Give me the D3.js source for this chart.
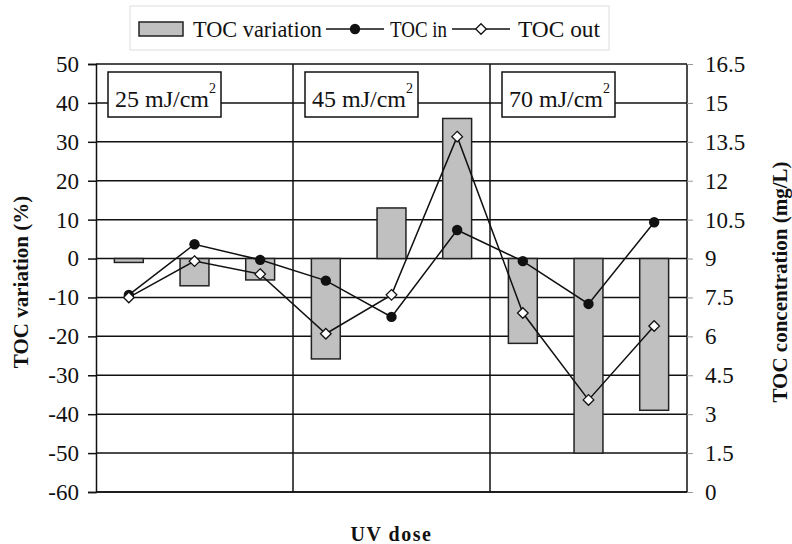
<!DOCTYPE html>
<html>
<head>
<meta charset="utf-8">
<script src="https://cdnjs.cloudflare.com/ajax/libs/d3/7.8.5/d3.min.js"></script>
<style>
body { margin: 0; background: #fff; }
text { font-family: "Liberation Serif", "Times New Roman", serif; fill: #111; }
</style>
</head>
<body>
<div id="chart"></div>
<script>
// samples, three per UV dose
var samples = ["s1", "s2", "s3", "s4", "s5", "s6", "s7", "s8", "s9"];
var doses = ["25", "45", "70"];
var tocVariation = [-1, -7, -5.5, -25.8, 13, 36, -21.8, -50, -39];   // %
var tocIn = [7.6, 9.55, 8.95, 8.15, 6.75, 10.1, 8.9, 7.25, 10.4];     // mg/L
var tocOut = [7.5, 8.9, 8.4, 6.1, 7.6, 13.7, 6.9, 3.55, 6.4];         // mg/L
var leftTicks = [-60, -50, -40, -30, -20, -10, 0, 10, 20, 30, 40, 50];
var rightTicks = [0, 1.5, 3, 4.5, 6, 7.5, 9, 10.5, 12, 13.5, 15, 16.5];

var width = 792, height = 544;
var margin = {top: 64, right: 105, bottom: 52, left: 96};
var serif = "'Liberation Serif', 'Times New Roman', serif";

var svg = d3.select("#chart")
    .append("svg")
    .attr("width", width)
    .attr("height", height);

var x = d3.scaleBand()
    .domain(samples)
    .range([margin.left, width - margin.right])
    .paddingInner(0.56)
    .paddingOuter(0.28);

var xGroup = d3.scaleBand()
    .domain(doses)
    .range([margin.left, width - margin.right]);

var yLeft = d3.scaleLinear()
    .domain([-60, 50])
    .range([height - margin.bottom, margin.top]);

var yRight = d3.scaleLinear()
    .domain([0, 16.5])
    .range([height - margin.bottom, margin.top]);

// horizontal grid lines
svg.append("g")
    .selectAll("line")
    .data(leftTicks)
    .enter().append("line")
    .attr("x1", margin.left)
    .attr("x2", width - margin.right)
    .attr("y1", function(d) { return yLeft(d); })
    .attr("y2", function(d) { return yLeft(d); })
    .style("stroke", "#111")
    .style("stroke-width", 1.5);

// vertical dividers between dose groups + right frame
svg.append("g")
    .selectAll("line")
    .data(doses.slice(1).concat(["end"]))
    .enter().append("line")
    .attr("x1", function(d) { return d == "end" ? width - margin.right : xGroup(d); })
    .attr("x2", function(d) { return d == "end" ? width - margin.right : xGroup(d); })
    .attr("y1", margin.top)
    .attr("y2", height - margin.bottom)
    .style("stroke", "#111")
    .style("stroke-width", 1.5);

// bars
svg.append("g")
    .selectAll("rect")
    .data(tocVariation)
    .enter().append("rect")
    .attr("x", function(d, i) { return x(samples[i]); })
    .attr("width", x.bandwidth())
    .attr("y", function(d) { return yLeft(Math.max(0, d)); })
    .attr("height", function(d) { return Math.abs(yLeft(d) - yLeft(0)); })
    .style("fill", "#c0c0c0")
    .style("stroke", "#222")
    .style("stroke-width", 1.5);

var cx = function(d, i) { return x(samples[i]) + x.bandwidth() / 2; };

var line = d3.line()
    .x(function(d, i) { return x(samples[i]) + x.bandwidth() / 2; })
    .y(function(d) { return yRight(d); });

svg.append("path")
    .datum(tocIn)
    .attr("d", line)
    .style("fill", "none")
    .style("stroke", "#111")
    .style("stroke-width", 1.5);

svg.append("path")
    .datum(tocOut)
    .attr("d", line)
    .style("fill", "none")
    .style("stroke", "#111")
    .style("stroke-width", 1.5);

svg.append("g")
    .selectAll("circle")
    .data(tocIn)
    .enter().append("circle")
    .attr("cx", cx)
    .attr("cy", function(d) { return yRight(d); })
    .attr("r", 5.2)
    .style("fill", "#111");

var diamond = d3.symbol().type(d3.symbolDiamond2).size(72);
svg.append("g")
    .selectAll("path")
    .data(tocOut)
    .enter().append("path")
    .attr("d", diamond)
    .attr("transform", function(d, i) { return "translate(" + cx(d, i) + "," + yRight(d) + ")"; })
    .style("fill", "#fff")
    .style("stroke", "#111")
    .style("stroke-width", 1.3);

// dose label boxes
var labels = svg.append("g")
    .selectAll("g")
    .data(doses)
    .enter().append("g")
    .attr("transform", function(d) { return "translate(" + (xGroup(d) + 12) + "," + 72 + ")"; });

labels.append("rect")
    .attr("width", 113)
    .attr("height", 45)
    .style("fill", "#fff")
    .style("stroke", "#111")
    .style("stroke-width", 1.5);

var lt = labels.append("text")
    .attr("x", 7)
    .attr("y", 35)
    .style("font-size", "24px");
lt.append("tspan").text(function(d) { return d + " mJ/cm"; });
lt.append("tspan")
    .attr("dy", -14)
    .style("font-size", "14px")
    .text("2");

// left axis
var leftAxis = svg.append("g")
    .attr("transform", "translate(" + margin.left + ",0)")
    .call(d3.axisLeft(yLeft).tickValues(leftTicks).tickSize(8).tickPadding(9)
        .tickFormat(function(d) { return String(d); }));
leftAxis.select(".domain").style("stroke", "#111").style("stroke-width", 1.5);
leftAxis.selectAll(".tick line").style("stroke", "#111").style("stroke-width", 1.5);
leftAxis.selectAll("text")
    .style("font-size", "23px")
    .style("font-family", serif)
    .style("fill", "#111");

// bottom axis line
svg.append("line")
    .attr("x1", margin.left)
    .attr("x2", width - margin.right)
    .attr("y1", height - margin.bottom)
    .attr("y2", height - margin.bottom)
    .style("stroke", "#111")
    .style("stroke-width", 1.5);

// right axis
var rightAxis = svg.append("g")
    .attr("transform", "translate(" + (width - margin.right) + ",0)")
    .call(d3.axisRight(yRight).tickValues(rightTicks).tickSize(6).tickPadding(12)
        .tickFormat(function(d) { return String(d); }));
rightAxis.select(".domain").remove();
rightAxis.selectAll(".tick line").style("stroke", "#999").style("stroke-width", 1);
rightAxis.selectAll("text")
    .style("font-size", "23px")
    .style("font-family", serif)
    .style("fill", "#111");

// axis titles
var midY = margin.top + (height - margin.bottom - margin.top) / 2;
svg.append("text")
    .attr("transform", "translate(28," + (midY + 4) + ") rotate(-90)")
    .attr("text-anchor", "middle")
    .style("font-size", "21px")
    .style("font-weight", "bold")
    .text("TOC variation (%)");

svg.append("text")
    .attr("transform", "translate(787," + (midY + 4) + ") rotate(-90)")
    .attr("text-anchor", "middle")
    .style("font-size", "21px")
    .style("font-weight", "bold")
    .text("TOC concentration (mg/L)");

svg.append("text")
    .attr("x", (margin.left + width - margin.right) / 2)
    .attr("y", 541)
    .attr("text-anchor", "middle")
    .style("font-size", "20px")
    .style("font-weight", "bold")
    .style("letter-spacing", "1.5px")
    .text("UV dose");

// legend
var legend = svg.append("g");
legend.append("rect")
    .attr("x", 130).attr("y", 6)
    .attr("width", 479).attr("height", 44)
    .style("fill", "#fff")
    .style("stroke", "#ddd");

legend.append("rect")
    .attr("x", 139).attr("y", 22)
    .attr("width", 44).attr("height", 14)
    .style("fill", "#c0c0c0")
    .style("stroke", "#222")
    .style("stroke-width", 1.5);
legend.append("text").attr("x", 193).attr("y", 37).style("font-size", "23px")
    .attr("textLength", 129).attr("lengthAdjust", "spacingAndGlyphs")
    .text("TOC variation");

legend.append("line").attr("x1", 326).attr("x2", 384).attr("y1", 29).attr("y2", 29)
    .style("stroke", "#111").style("stroke-width", 1.5);
legend.append("circle").attr("cx", 355).attr("cy", 29).attr("r", 5.2).style("fill", "#111");
legend.append("text").attr("x", 390).attr("y", 37).style("font-size", "23px")
    .attr("textLength", 57).attr("lengthAdjust", "spacingAndGlyphs")
    .text("TOC in");

legend.append("line").attr("x1", 452).attr("x2", 510).attr("y1", 29).attr("y2", 29)
    .style("stroke", "#111").style("stroke-width", 1.5);
legend.append("path").attr("d", diamond)
    .attr("transform", "translate(481,29)")
    .style("fill", "#fff").style("stroke", "#111").style("stroke-width", 1.3);
legend.append("text").attr("x", 518).attr("y", 37).style("font-size", "23px")
    .attr("textLength", 82).attr("lengthAdjust", "spacingAndGlyphs")
    .text("TOC out");
</script>
</body>
</html>
